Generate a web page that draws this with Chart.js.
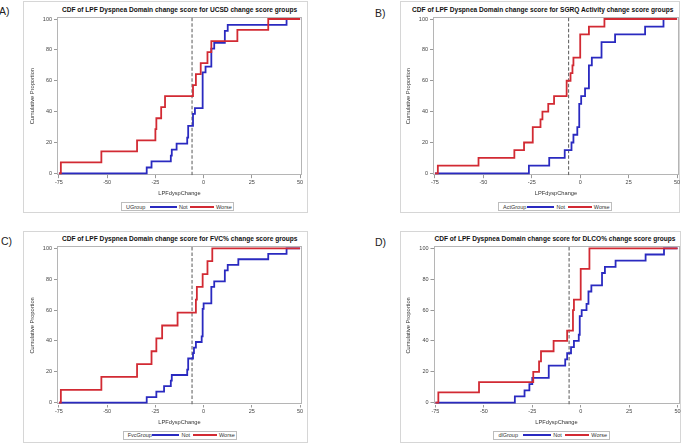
<!DOCTYPE html>
<html>
<head>
<meta charset="utf-8">
<script src="https://cdn.jsdelivr.net/npm/chart.js@4.4.0/dist/chart.umd.min.js"></script>
<style>
body { margin: 0; background: #fff; font-family: "Liberation Sans", Arial, sans-serif; }
#page { position: relative; width: 685px; height: 444px; overflow: hidden; background: #fff; }
.frame { position: absolute; border: 1px solid #d6d6d6; box-sizing: border-box; }
.ttl { position: absolute; font-weight: bold; font-size: 6.6px; line-height: 1; white-space: nowrap; color: #111; transform: translate(-50%, -50%); }
.tag { position: absolute; font-size: 10.5px; line-height: 1; color: #222; transform: translateY(-50%); }
.leg { position: absolute; border: 1px solid #bdbdbd; box-sizing: border-box; font-size: 5.5px; color: #333; white-space: nowrap; }
.leg span, .leg i { position: absolute; top: 50%; transform: translateY(-50%); }
.leg i { height: 2px; }
canvas { position: absolute; }
</style>
</head>
<body>
<div id="page"></div>
<script>
// axis ticks
const xTicks = [-75, -50, -25, 0, 25, 50];
const yTicks = [0, 20, 40, 60, 80, 100];
const refX = -6; // dashed reference line

// A) UCSD groups
const aNotX = [-75, -29.5, -27, -17, -16.5, -14, -8.5, -8, -5.5, -4.5, -0.5, 1, 4, 5.5, 11, 12.5, 43, 50];
const aNotY = [0, 3.8, 7.7, 11.5, 15.4, 19.2, 23.1, 30.8, 38.5, 42.3, 65.4, 69.2, 80.8, 84.6, 92.3, 96.2, 100, 100];
const aWorseX = [-75, -74, -53, -34.5, -25, -24.5, -22, -20, -5.5, -4, -1.5, 2, 4, 17.5, 33.5, 50];
const aWorseY = [0, 7.1, 14.3, 21.4, 28.6, 35.7, 42.9, 50, 57.1, 64.3, 71.4, 78.6, 85.7, 92.9, 100, 100];

// B) SGRQ Activity groups
const bNotX = [-75, -26.5, -16, -8, -4.5, -3.5, -1.5, -0.5, 0.5, 2.5, 4.5, 6, 11, 18, 33.5, 43, 50];
const bNotY = [0, 5, 10, 15, 20, 25, 30, 45, 50, 55, 70, 75, 85, 90, 95, 100, 100];
const bWorseX = [-75, -73.5, -52.5, -34, -29, -24.5, -20.5, -19.5, -16.5, -13.5, -7, -5, -4, -3.5, 0, 4.5, 12.5, 50];
const bWorseY = [0, 5, 10, 15, 20, 30, 35, 40, 45, 50, 60, 65, 70, 75, 90, 95, 100, 100];

// C) FVC% groups
const cNotX = [-75, -29.5, -24.5, -20.5, -17, -16.5, -8.5, -8, -5.5, -5, -4, -1, -0.5, 0, 4, 5.5, 11, 12.5, 18, 33.5, 43, 50];
const cNotY = [0, 3.6, 7.1, 10.7, 14.3, 17.9, 21.4, 28.6, 32.1, 35.7, 39.3, 42.9, 60.7, 64.3, 75, 78.6, 85.7, 89.3, 92.9, 96.4, 100, 100];
const cWorseX = [-75, -74, -53, -34.5, -27, -24.5, -21.5, -13.5, -4, -3.5, -0.5, 2, 4.5, 50];
const cWorseY = [0, 8.3, 16.7, 25, 33.3, 41.7, 50, 58.3, 66.7, 75, 83.3, 91.7, 100, 100];

// D) DLCO% groups
const dNotX = [-75, -34, -29, -26.5, -25, -16.5, -8, -7, -5, -3.5, -1, -0.5, 0.5, 3, 4, 5.5, 11, 12.5, 18, 33.5, 43, 50];
const dNotY = [0, 4, 8, 12, 16, 24, 28, 32, 36, 40, 44, 56, 60, 64, 72, 76, 84, 88, 92, 96, 100, 100];
const dWorseX = [-75, -73.5, -52.5, -24.5, -21.5, -20.5, -14, -7, -4, -3.5, 0, 4.5, 50];
const dWorseY = [0, 6.7, 13.3, 20, 26.7, 33.3, 40, 46.7, 60, 66.7, 86.7, 100, 100];

const BLUE = '#2a2ac0';
const RED = '#d22a33';
const FONT = '"Liberation Sans", Arial, sans-serif';
const xMin = -76, xMax = 51, yMin = -1.2, yMax = 101.3;

// page layout of the four panels (pixels)
const panels = [
  { tag: 'A)', tagPos: [-1, 11], frame: [23, 1, 285, 212], plot: [57, 17, 302, 175.2], yTitleX: 32, xTitleY: 193,
    title: 'CDF of LPF Dyspnea Domain change score for UCSD change score groups', titlePos: [179.5, 10],
    group: 'UGroup', legend: [121, 202, 113, 9], notX: aNotX, notY: aNotY, worseX: aWorseX, worseY: aWorseY },
  { tag: 'B)', tagPos: [375, 12.5], frame: [400, 1, 280, 212], plot: [433, 17, 679, 175.2], yTitleX: 408.3, xTitleY: 193,
    title: 'CDF of LPF Dyspnea Domain change score for SGRQ Activity change score groups', titlePos: [542.7, 10],
    group: 'ActGroup', legend: [498, 202, 114, 9], notX: bNotX, notY: bNotY, worseX: bWorseX, worseY: bWorseY },
  { tag: 'C)', tagPos: [1, 241], frame: [23, 231, 285, 212], plot: [57, 246.3, 302, 404.5], yTitleX: 32, xTitleY: 422.3,
    title: 'CDF of LPF Dyspnea Domain change score for FVC% change score groups', titlePos: [179.7, 239],
    group: 'FvcGroup', legend: [122.7, 430.7, 114.6, 9], notX: cNotX, notY: cNotY, worseX: cWorseX, worseY: cWorseY },
  { tag: 'D)', tagPos: [375, 242], frame: [399.5, 231, 281, 212], plot: [433, 246.3, 679, 404.5], yTitleX: 408.3, xTitleY: 422.3,
    title: 'CDF of LPF Dyspnea Domain change score for DLCO% change score groups', titlePos: [555, 239],
    group: 'dlGroup', legend: [493.3, 430.7, 116.7, 9], notX: dNotX, notY: dNotY, worseX: dWorseX, worseY: dWorseY }
];

const page = document.getElementById('page');

// gray box around plot area
const boxPlugin = {
  id: 'box',
  beforeDatasetsDraw(chart) {
    const a = chart.chartArea, ctx = chart.ctx;
    ctx.save();
    ctx.strokeStyle = '#b5b5b5';
    ctx.lineWidth = 1;
    ctx.strokeRect(Math.round(a.left) + 0.5, Math.round(a.top) + 0.5, Math.round(a.right - a.left) - 1, Math.round(a.bottom - a.top) - 1);
    ctx.restore();
  }
};

function add(cls, text, css) {
  const el = document.createElement('div');
  el.className = cls;
  if (text) el.textContent = text;
  Object.assign(el.style, css);
  page.appendChild(el);
  return el;
}

function makePanel(p) {
  const [fx, fy, fw, fh] = p.frame;
  const [px0, py0, px1, py1] = p.plot;
  add('frame', '', { left: fx + 'px', top: fy + 'px', width: fw + 'px', height: fh + 'px' });
  add('tag', p.tag, { left: p.tagPos[0] + 'px', top: p.tagPos[1] + 'px' });
  add('ttl', p.title, { left: p.titlePos[0] + 'px', top: p.titlePos[1] + 'px' });

  // legend
  const [lx, ly, lw, lh] = p.legend;
  const leg = add('leg', '', { left: lx + 'px', top: ly + 'px', width: lw + 'px', height: lh + 'px' });
  const k = lw / 113;
  leg.innerHTML =
    `<span style="left:${4 * k}px">${p.group}</span>` +
    `<i style="left:${28 * k}px;width:${27 * k}px;background:${BLUE}"></i>` +
    `<span style="left:${57 * k}px">Not</span>` +
    `<i style="left:${68 * k}px;width:${24 * k}px;background:${RED}"></i>` +
    `<span style="left:${94 * k}px">Worse</span>`;

  const cv = document.createElement('canvas');
  cv.width = fw; cv.height = fh;
  cv.style.left = fx + 'px'; cv.style.top = fy + 'px';
  cv.style.width = fw + 'px'; cv.style.height = fh + 'px';
  page.appendChild(cv);

  const tsz = 5.7, lhalf = tsz * 1.2 / 2;
  const yW = px0 - p.yTitleX + lhalf;
  const xH = p.xTitleY + lhalf - py1;

  new Chart(cv, {
    type: 'line',
    data: {
      datasets: [
        { label: 'Worse', data: p.worseX.map((x, i) => ({ x, y: p.worseY[i] })), borderColor: RED, borderWidth: 1.8, stepped: 'before', pointRadius: 0, fill: false },
        { label: 'Not', data: p.notX.map((x, i) => ({ x, y: p.notY[i] })), borderColor: BLUE, borderWidth: 1.8, stepped: 'before', pointRadius: 0, fill: false },
        { label: 'ref', data: [{ x: refX, y: yMin }, { x: refX, y: yMax }], borderColor: '#666', borderWidth: 1.1, borderDash: [3.5, 2], pointRadius: 0 }
      ]
    },
    options: {
      responsive: false,
      animation: false,
      layout: { padding: { left: px0 - fx - yW, right: fx + fw - px1, top: py0 - fy, bottom: fy + fh - py1 - xH } },
      plugins: { legend: { display: false }, tooltip: { enabled: false } },
      scales: {
        x: {
          type: 'linear', min: xMin, max: xMax,
          afterBuildTicks: s => { s.ticks = xTicks.map(v => ({ value: v })); },
          afterFit: s => { s.height = xH; s.paddingLeft = 0; s.paddingRight = 0; },
          grid: { drawOnChartArea: false, tickLength: 3, color: '#999' },
          border: { display: false },
          ticks: { font: { size: 5.5, family: FONT }, color: '#444', padding: 1, maxRotation: 0, autoSkip: false },
          title: { display: true, text: 'LPFdyspChange', font: { size: tsz, family: FONT }, color: '#333', padding: 0 }
        },
        y: {
          min: yMin, max: yMax,
          afterBuildTicks: s => { s.ticks = yTicks.map(v => ({ value: v })); },
          afterFit: s => { s.width = yW; },
          grid: { drawOnChartArea: false, tickLength: 3, color: '#999' },
          border: { display: false },
          ticks: { font: { size: 5.5, family: FONT }, color: '#444', padding: 2, autoSkip: false },
          title: { display: true, text: 'Cumulative Proportion', font: { size: tsz, family: FONT }, color: '#333', padding: 0 }
        }
      }
    },
    plugins: [boxPlugin]
  });
}

panels.forEach(makePanel);
</script>
</body>
</html>
